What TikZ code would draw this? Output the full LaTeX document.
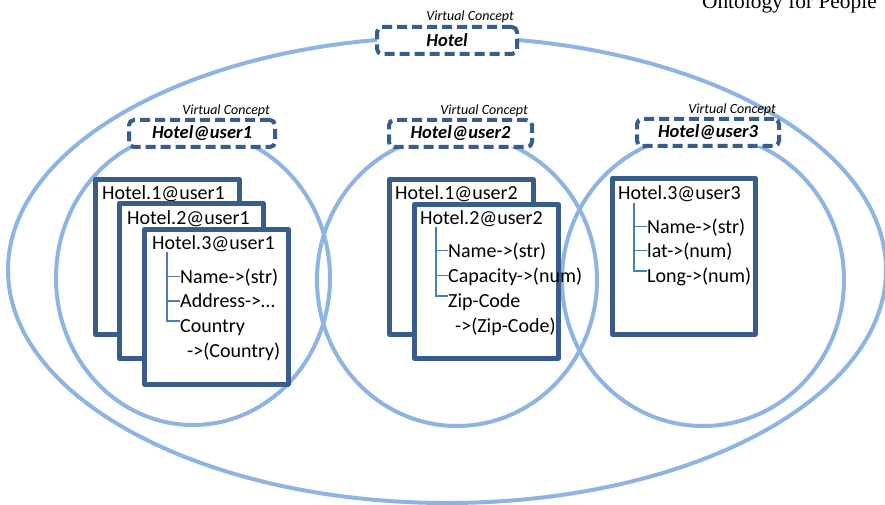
\documentclass[tikz,border=0pt]{standalone}
\usepackage{fontspec}
\setmainfont{Carlito}
\newfontfamily\headfont{Liberation Serif}
\usetikzlibrary{calc}
\definecolor{ringblue}{RGB}{141,180,227}
\definecolor{boxblue}{RGB}{56,93,138}
\definecolor{treeblue}{RGB}{74,126,187}

\begin{document}
\begin{tikzpicture}[x=1pt,y=-1pt,
  ring/.style={draw=ringblue, line width=4pt},
  vbox/.style={draw=boxblue, line width=4pt, dash pattern=on 10pt off 5pt,
    rounded corners=5pt, fill=white, rectangle, inner sep=0pt,
    minimum height=27pt, anchor=north west,
    font=\fontsize{18.5}{22}\selectfont\bfseries\itshape},
  vlabel/.style={font=\fontsize{14}{16}\selectfont\itshape, inner sep=0pt, anchor=base east},
  docbox/.style={draw=boxblue, line width=4.5pt, fill=white, rectangle, inner sep=0pt,
    minimum width=144pt, minimum height=155pt, anchor=north west, line join=round},
  head/.style={font=\fontsize{20}{24}\selectfont, inner sep=0pt, anchor=base west},
  item/.style={font=\fontsize{20}{24}\selectfont, inner sep=0pt, anchor=base west,
    text height=17pt, text depth=4pt},
  tree/.style={draw=treeblue, line width=1.3pt},
]
\useasboundingbox (0,0) rectangle (885,505);

% running head
\node[font=\headfont\fontsize{21.4}{24}\selectfont, anchor=base east, inner sep=0pt]
  (runhead) at (877,9) {Ontology for People};

% concept extents
\draw[ring] (447,270) ellipse [x radius=439pt, y radius=233pt];
\draw[ring] (193,278) ellipse [x radius=137pt, y radius=147pt];
\draw[ring] (457,280) ellipse [x radius=140pt, y radius=146pt];
\draw[ring] (703,280) ellipse [x radius=141pt, y radius=146pt];

% virtual concepts
\node[vbox, minimum width=140pt] (vHotel) at (375,25) {Hotel};
\node[vlabel] (lHotel) at (514,21) {Virtual Concept};
\node[vbox, minimum width=146pt] (vU1) at (127,118) {Hotel@user1};
\node[vlabel] (lU1) at (270,115) {Virtual Concept};
\node[vbox, minimum width=143pt] (vU2) at (387,118) {Hotel@user2};
\node[vlabel] (lU2) at (528,115) {Virtual Concept};
\node[vbox, minimum width=142pt] (vU3) at (635,117) {Hotel@user3};
\node[vlabel] (lU3) at (776,114) {Virtual Concept};

% instances of user1
\node[docbox] (u1b1) at (93,177) {};
\node[head] (u1h1) at (102,199) {Hotel.1@user1};
\node[docbox] (u1b2) at (117,201) {};
\node[head] (u1h2) at (127,224) {Hotel.2@user1};
\node[docbox] (u1b3) at (142,227) {};
\node[head] (u1h3) at (152,249) {Hotel.3@user1};
\node[item] (u1n1) at (180,283) {Name->(str)};
\node[item] (u1n2) at (180,307.5) {Address->…};
\node[item] (u1n3) at (180,332) {Country};
\node[item] (u1n3b) at (187,357) {->(Country)};
\coordinate (u1t) at (167,252);
\draw[tree] (u1t) |- (u1n1.west);
\draw[tree] (u1t) |- (u1n2.west);
\draw[tree] (u1t) |- ([yshift=4.5pt]u1n3.west);

% instances of user2
\node[docbox] (u2b1) at (387,177) {};
\node[head] (u2h1) at (395,199) {Hotel.1@user2};
\node[docbox, minimum height=154pt] (u2b2) at (412,202) {};
\node[head] (u2h2) at (420,224) {Hotel.2@user2};
\node[item] (u2n1) at (448,257) {Name->(str)};
\node[item] (u2n2) at (448,282) {Capacity->(num)};
\node[item] (u2n3) at (448,307) {Zip-Code};
\node[item] (u2n3b) at (455,332) {->(Zip-Code)};
\coordinate (u2t) at (436,227);
\draw[tree] (u2t) |- (u2n1.west);
\draw[tree] (u2t) |- (u2n2.west);
\draw[tree] (u2t) |- ([yshift=4.5pt]u2n3.west);

% instance of user3
\node[docbox, minimum width=143pt, minimum height=156pt] (u3b1) at (610,176) {};
\node[head] (u3h1) at (618,199) {Hotel.3@user3};
\node[item] (u3n1) at (647,233) {Name->(str)};
\node[item] (u3n2) at (647,257) {lat->(num)};
\node[item] (u3n3) at (647,282) {Long->(num)};
\coordinate (u3t) at (634,203);
\draw[tree] (u3t) |- (u3n1.west);
\draw[tree] (u3t) |- (u3n2.west);
\draw[tree] (u3t) |- ([yshift=4.5pt]u3n3.west);
\end{tikzpicture}
\end{document}
